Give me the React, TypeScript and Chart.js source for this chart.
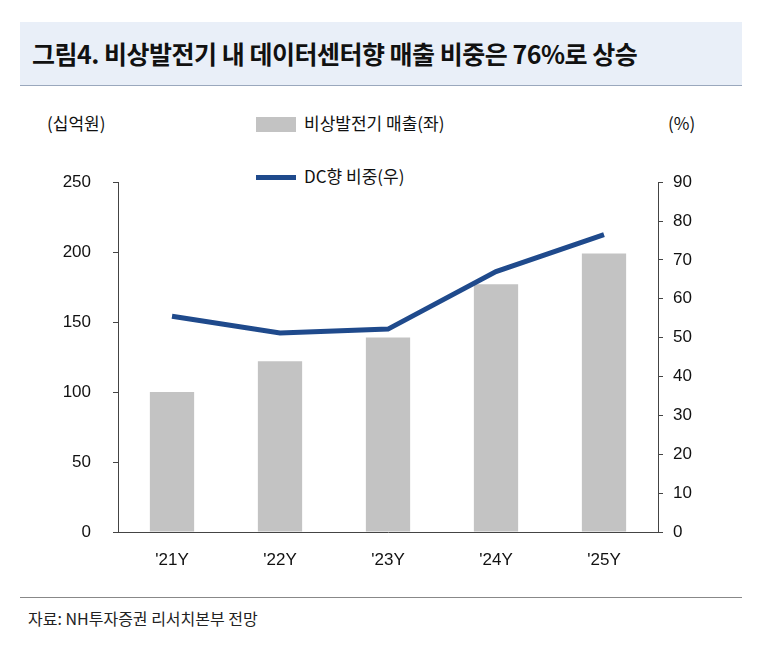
import React, { useEffect, useRef } from "react";
import { Chart, registerables } from "chart.js";
Chart.register(...registerables);

const categories = ["'21Y", "'22Y", "'23Y", "'24Y", "'25Y"];
const salesValues = [100, 122, 139, 177, 199];
const dcShare = [55.5, 51.2, 52.2, 67.0, 76.5];
const leftTicks = [0, 50, 100, 150, 200, 250];
const rightTicks = [0, 10, 20, 30, 40, 50, 60, 70, 80, 90];

const FONT = "'Liberation Sans', Arial, sans-serif";

export default function App() {
  const ref = useRef<HTMLCanvasElement>(null);
  useEffect(() => {
    document.body.style.margin = "0";
    const ch = new Chart(ref.current!, {
      type: "bar",
      data: {
        labels: categories,
        datasets: [
          { type: "line", label: "DC향 비중(우)", data: dcShare, yAxisID: "y1", borderColor: "#1f4a8c", borderWidth: 5, pointRadius: 0, tension: 0, order: 0 },
          { type: "bar", label: "비상발전기 매출(좌)", data: salesValues, yAxisID: "y", backgroundColor: "#c3c3c3", barPercentage: 0.41, categoryPercentage: 1, order: 1 },
        ],
      },
      options: {
        responsive: false,
        animation: false,
        layout: { padding: { top: 2 } },
        plugins: { legend: { display: false }, tooltip: { enabled: false } },
        scales: {
          x: {
            grid: { display: false, drawTicks: false },
            border: { color: "#444", width: 1 },
            ticks: { font: { family: FONT, size: 17 }, color: "#111", padding: 18 },
            afterFit: (s: any) => { s.height = 48; },
          },
          y: {
            position: "left", min: 0, max: 250,
            afterBuildTicks: (s: any) => { s.ticks = leftTicks.map((v) => ({ value: v })); },
            grid: { drawOnChartArea: false, tickLength: 5, color: "#444" },
            border: { color: "#444", width: 1 },
            ticks: { font: { family: FONT, size: 17 }, color: "#111", padding: 22 },
            afterFit: (s: any) => { s.width = 78; },
          },
          y1: {
            position: "right", min: 0, max: 90,
            afterBuildTicks: (s: any) => { s.ticks = rightTicks.map((v) => ({ value: v })); },
            grid: { drawOnChartArea: false, tickLength: 5, color: "#444" },
            border: { color: "#444", width: 1 },
            ticks: { font: { family: FONT, size: 17 }, color: "#111", padding: 10 },
            afterFit: (s: any) => { s.width = 72; },
          },
        },
      },
    } as any);
    return () => ch.destroy();
  }, []);

  const txt: React.CSSProperties = { position: "absolute", fontFamily: "'Noto Sans CJK KR', sans-serif", color: "#111", whiteSpace: "nowrap" };
  return (
    <div style={{ position: "relative", width: 764, height: 652, background: "#fff" }}>
      <div style={{ position: "absolute", left: 20, top: 22, width: 722, height: 63, background: "#e9eff8", borderBottom: "1px solid #9aa8bd" }} />
      <div style={{ ...txt, left: 32, top: 35, fontSize: 25, fontWeight: 700, letterSpacing: -0.5 }}>그림4. 비상발전기 내 데이터센터향 매출 비중은 76%로 상승</div>
      <div style={{ ...txt, left: 47, top: 110, fontSize: 17 }}>(십억원)</div>
      <div style={{ ...txt, left: 668, top: 110, fontSize: 17 }}>(%)</div>
      <div style={{ position: "absolute", left: 256, top: 117, width: 40, height: 15, background: "#c3c3c3" }} />
      <div style={{ ...txt, left: 304, top: 110, fontSize: 17 }}>비상발전기 매출(좌)</div>
      <div style={{ position: "absolute", left: 256, top: 175, width: 40, height: 5, background: "#1f4a8c" }} />
      <div style={{ ...txt, left: 304, top: 163, fontSize: 17 }}>DC향 비중(우)</div>
      <canvas ref={ref} width={690} height={430} style={{ position: "absolute", left: 40, top: 150 }} />
      <div style={{ position: "absolute", left: 20, top: 597, width: 722, height: 1, background: "#888" }} />
      <div style={{ ...txt, left: 28, top: 606, fontSize: 16, color: "#222" }}>자료: NH투자증권 리서치본부 전망</div>
    </div>
  );
}
